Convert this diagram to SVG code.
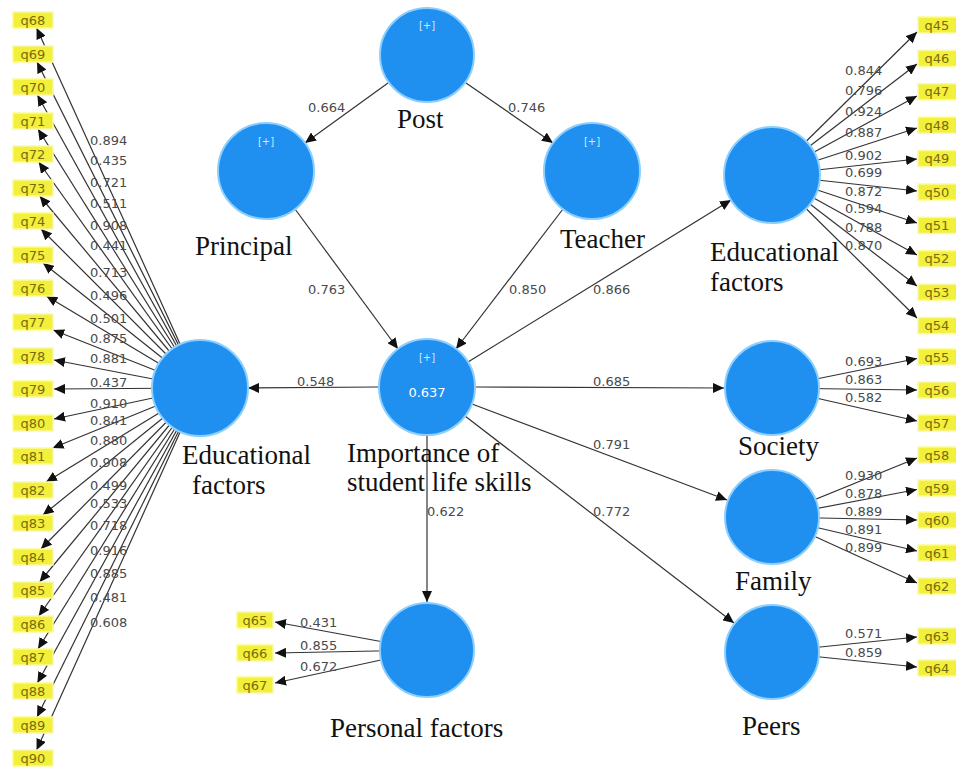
<svg xmlns="http://www.w3.org/2000/svg" width="956" height="776" viewBox="0 0 956 776">
  <style>
    .lv { fill: #1f8ff0; stroke: #8ccfff; stroke-width: 2; }
    .plus { font-family: "DejaVu Sans", sans-serif; font-size: 10px; fill: #cfe8ff; text-anchor: middle; }
    .r2 { font-family: "DejaVu Sans", sans-serif; font-size: 13px; fill: #ffffff; text-anchor: middle; }
    .name { font-family: "Liberation Serif", serif; font-size: 27px; fill: #111; }
    .ind rect { fill: #f2f03a; stroke: #fbfa9a; stroke-width: 1.5; }
    .ind text { font-family: "DejaVu Sans", sans-serif; font-size: 13px; fill: #7a6a10; text-anchor: middle; }
    .ln { stroke: #333333; stroke-width: 1.2; fill: none; marker-end: url(#ah); }
    .val { font-family: "DejaVu Sans", sans-serif; font-size: 13px; fill: #4a4a4a; }
  </style>
  <defs>
    <marker id="ah" markerUnits="userSpaceOnUse" markerWidth="12" markerHeight="10" refX="11" refY="5" orient="auto">
      <path d="M0,0 L11,5 L0,10 z" fill="#111"/>
    </marker>
  </defs>
  <rect width="956" height="776" fill="#ffffff"/>

  <g id="connectors">
    <!-- structural paths -->
    <line class="ln" x1="388" y1="83" x2="305" y2="143"/>
    <line class="ln" x1="466" y1="83" x2="553" y2="143"/>
    <line class="ln" x1="295" y1="209" x2="398" y2="349"/>
    <line class="ln" x1="563" y1="209" x2="456" y2="349"/>
    <line class="ln" x1="468" y1="362" x2="731" y2="200"/>
    <line class="ln" x1="379" y1="387" x2="248" y2="388"/>
    <line class="ln" x1="475" y1="387" x2="724" y2="388"/>
    <line class="ln" x1="472" y1="404" x2="727" y2="500"/>
    <line class="ln" x1="465" y1="416" x2="734" y2="623"/>
    <line class="ln" x1="427" y1="435" x2="427" y2="602"/>

    <!-- outer loadings: left Educational factors -->
    <g id="loadings-left">
      <line class="ln" x1="200" y1="388" x2="36.6" y2="28"/>
      <line class="ln" x1="200" y1="388" x2="37" y2="62"/>
      <line class="ln" x1="200" y1="388" x2="37.4" y2="95"/>
      <line class="ln" x1="200" y1="388" x2="38" y2="129"/>
      <line class="ln" x1="200" y1="388" x2="38.7" y2="162"/>
      <line class="ln" x1="200" y1="388" x2="39.7" y2="196"/>
      <line class="ln" x1="200" y1="388" x2="41" y2="229"/>
      <line class="ln" x1="200" y1="388" x2="43" y2="263"/>
      <line class="ln" x1="200" y1="388" x2="46.4" y2="296"/>
      <line class="ln" x1="200" y1="388" x2="53.2" y2="330"/>
      <line class="ln" x1="200" y1="388" x2="54" y2="360"/>
      <line class="ln" x1="200" y1="388" x2="54" y2="389"/>
      <line class="ln" x1="200" y1="388" x2="54" y2="419"/>
      <line class="ln" x1="200" y1="388" x2="52.6" y2="448"/>
      <line class="ln" x1="200" y1="388" x2="46.1" y2="482"/>
      <line class="ln" x1="200" y1="388" x2="42.9" y2="515"/>
      <line class="ln" x1="200" y1="388" x2="40.9" y2="549"/>
      <line class="ln" x1="200" y1="388" x2="39.6" y2="582"/>
      <line class="ln" x1="200" y1="388" x2="38.7" y2="616"/>
      <line class="ln" x1="200" y1="388" x2="38" y2="649"/>
      <line class="ln" x1="200" y1="388" x2="37.4" y2="683"/>
      <line class="ln" x1="200" y1="388" x2="37" y2="717"/>
      <line class="ln" x1="200" y1="388" x2="36.6" y2="750"/>
    </g>

    <!-- outer loadings: right Educational factors -->
    <g id="loadings-right">
      <line class="ln" x1="772" y1="175" x2="917" y2="32"/>
      <line class="ln" x1="772" y1="175" x2="917" y2="64"/>
      <line class="ln" x1="772" y1="175" x2="917" y2="96"/>
      <line class="ln" x1="772" y1="175" x2="917" y2="128"/>
      <line class="ln" x1="772" y1="175" x2="917" y2="159"/>
      <line class="ln" x1="772" y1="175" x2="917" y2="191"/>
      <line class="ln" x1="772" y1="175" x2="917" y2="223"/>
      <line class="ln" x1="772" y1="175" x2="917" y2="255"/>
      <line class="ln" x1="772" y1="175" x2="917" y2="286"/>
      <line class="ln" x1="772" y1="175" x2="917" y2="318"/>
      <!-- Society -->
      <line class="ln" x1="772" y1="388" x2="917" y2="358.5"/>
      <line class="ln" x1="772" y1="388" x2="917" y2="390"/>
      <line class="ln" x1="772" y1="388" x2="917" y2="421"/>
      <!-- Family -->
      <line class="ln" x1="772" y1="517" x2="917" y2="458"/>
      <line class="ln" x1="772" y1="517" x2="917" y2="489.5"/>
      <line class="ln" x1="772" y1="517" x2="917" y2="520"/>
      <line class="ln" x1="772" y1="517" x2="917" y2="551"/>
      <line class="ln" x1="772" y1="517" x2="917" y2="583"/>
      <!-- Peers -->
      <line class="ln" x1="772" y1="652" x2="917" y2="637"/>
      <line class="ln" x1="772" y1="652" x2="917" y2="667"/>
    </g>

    <!-- Personal factors -->
    <g id="loadings-personal">
      <line class="ln" x1="427" y1="650" x2="275" y2="622"/>
      <line class="ln" x1="427" y1="650" x2="275" y2="653"/>
      <line class="ln" x1="427" y1="650" x2="275" y2="683"/>
    </g>

    <!-- coefficient labels -->
    <g id="path-values">
      <text class="val" x="308" y="112">0.664</text>
      <text class="val" x="508" y="112">0.746</text>
      <text class="val" x="308" y="294">0.763</text>
      <text class="val" x="509" y="294">0.850</text>
      <text class="val" x="593" y="294">0.866</text>
      <text class="val" x="297" y="386">0.548</text>
      <text class="val" x="593" y="386">0.685</text>
      <text class="val" x="593" y="449">0.791</text>
      <text class="val" x="593" y="516">0.772</text>
      <text class="val" x="427" y="516">0.622</text>
    </g>
    <g id="loading-values-left">
      <text class="val" x="90" y="145">0.894</text>
      <text class="val" x="90" y="165">0.435</text>
      <text class="val" x="90" y="187">0.721</text>
      <text class="val" x="90" y="208">0.511</text>
      <text class="val" x="90" y="230">0.908</text>
      <text class="val" x="90" y="250">0.441</text>
      <text class="val" x="90" y="277">0.713</text>
      <text class="val" x="90" y="300">0.496</text>
      <text class="val" x="90" y="323">0.501</text>
      <text class="val" x="90" y="343">0.875</text>
      <text class="val" x="90" y="363">0.881</text>
      <text class="val" x="90" y="387">0.437</text>
      <text class="val" x="90" y="408">0.910</text>
      <text class="val" x="90" y="425">0.841</text>
      <text class="val" x="90" y="445">0.880</text>
      <text class="val" x="90" y="467">0.908</text>
      <text class="val" x="90" y="490">0.499</text>
      <text class="val" x="90" y="508">0.533</text>
      <text class="val" x="90" y="530">0.718</text>
      <text class="val" x="90" y="555">0.916</text>
      <text class="val" x="90" y="578">0.885</text>
      <text class="val" x="90" y="602">0.481</text>
      <text class="val" x="90" y="627">0.608</text>
    </g>
    <g id="loading-values-right">
      <text class="val" x="845" y="75">0.844</text>
      <text class="val" x="845" y="95">0.796</text>
      <text class="val" x="845" y="116">0.924</text>
      <text class="val" x="845" y="137">0.887</text>
      <text class="val" x="845" y="160">0.902</text>
      <text class="val" x="845" y="177">0.699</text>
      <text class="val" x="845" y="196">0.872</text>
      <text class="val" x="845" y="213">0.594</text>
      <text class="val" x="845" y="232">0.788</text>
      <text class="val" x="845" y="250">0.870</text>
      <text class="val" x="845" y="366">0.693</text>
      <text class="val" x="845" y="384">0.863</text>
      <text class="val" x="845" y="402">0.582</text>
      <text class="val" x="845" y="480">0.930</text>
      <text class="val" x="845" y="498">0.878</text>
      <text class="val" x="845" y="516">0.889</text>
      <text class="val" x="845" y="534">0.891</text>
      <text class="val" x="845" y="552">0.899</text>
      <text class="val" x="845" y="638">0.571</text>
      <text class="val" x="845" y="657">0.859</text>
      <text class="val" x="300" y="627">0.431</text>
      <text class="val" x="300" y="650">0.855</text>
      <text class="val" x="300" y="671">0.672</text>
    </g>
  </g>

  <!-- latent variables -->
  <g id="post">
    <circle class="lv" cx="427" cy="55" r="47"/>
    <text class="plus" x="427" y="29">[+]</text>
    <text class="name" x="397" y="128">Post</text>
  </g>
  <g id="principal">
    <circle class="lv" cx="266" cy="171" r="48"/>
    <text class="plus" x="266" y="145">[+]</text>
    <text class="name" x="195" y="255">Principal</text>
  </g>
  <g id="teacher">
    <circle class="lv" cx="592" cy="171" r="48"/>
    <text class="plus" x="592" y="145">[+]</text>
    <text class="name" x="560" y="248">Teacher</text>
  </g>
  <g id="importance">
    <circle class="lv" cx="427" cy="387" r="48"/>
    <text class="plus" x="427" y="361">[+]</text>
    <text class="r2" x="427" y="397">0.637</text>
    <text class="name" x="347" y="462">Importance of</text>
    <text class="name" x="347" y="491">student life skills</text>
  </g>
  <g id="educational-left">
    <circle class="lv" cx="200" cy="388" r="48"/>
    <text class="name" x="182" y="464">Educational</text>
    <text class="name" x="192" y="494">factors</text>
  </g>
  <g id="educational-right">
    <circle class="lv" cx="772" cy="175" r="48"/>
    <text class="name" x="710" y="261">Educational</text>
    <text class="name" x="710" y="291">factors</text>
  </g>
  <g id="society">
    <circle class="lv" cx="772" cy="388" r="47"/>
    <text class="name" x="738" y="455">Society</text>
  </g>
  <g id="family">
    <circle class="lv" cx="772" cy="517" r="47"/>
    <text class="name" x="735" y="590">Family</text>
  </g>
  <g id="peers">
    <circle class="lv" cx="772" cy="652" r="47"/>
    <text class="name" x="742" y="735">Peers</text>
  </g>
  <g id="personal">
    <circle class="lv" cx="427" cy="650" r="47"/>
    <text class="name" x="330" y="737">Personal factors</text>
  </g>

  <!-- indicators, left column -->
  <g class="ind" id="q68"><rect x="13" y="12" width="40" height="16"/><text x="33" y="24.5">q68</text></g>
  <g class="ind" id="q69"><rect x="13" y="46" width="40" height="16"/><text x="33" y="58.5">q69</text></g>
  <g class="ind" id="q70"><rect x="13" y="79" width="40" height="16"/><text x="33" y="91.5">q70</text></g>
  <g class="ind" id="q71"><rect x="13" y="113" width="40" height="16"/><text x="33" y="125.5">q71</text></g>
  <g class="ind" id="q72"><rect x="13" y="146" width="40" height="16"/><text x="33" y="158.5">q72</text></g>
  <g class="ind" id="q73"><rect x="13" y="180" width="40" height="16"/><text x="33" y="192.5">q73</text></g>
  <g class="ind" id="q74"><rect x="13" y="213" width="40" height="16"/><text x="33" y="225.5">q74</text></g>
  <g class="ind" id="q75"><rect x="13" y="247" width="40" height="16"/><text x="33" y="259.5">q75</text></g>
  <g class="ind" id="q76"><rect x="13" y="280" width="40" height="16"/><text x="33" y="292.5">q76</text></g>
  <g class="ind" id="q77"><rect x="13" y="314" width="40" height="16"/><text x="33" y="326.5">q77</text></g>
  <g class="ind" id="q78"><rect x="13" y="348" width="40" height="16"/><text x="33" y="360.5">q78</text></g>
  <g class="ind" id="q79"><rect x="13" y="381" width="40" height="16"/><text x="33" y="393.5">q79</text></g>
  <g class="ind" id="q80"><rect x="13" y="415" width="40" height="16"/><text x="33" y="427.5">q80</text></g>
  <g class="ind" id="q81"><rect x="13" y="448" width="40" height="16"/><text x="33" y="460.5">q81</text></g>
  <g class="ind" id="q82"><rect x="13" y="482" width="40" height="16"/><text x="33" y="494.5">q82</text></g>
  <g class="ind" id="q83"><rect x="13" y="515" width="40" height="16"/><text x="33" y="527.5">q83</text></g>
  <g class="ind" id="q84"><rect x="13" y="549" width="40" height="16"/><text x="33" y="561.5">q84</text></g>
  <g class="ind" id="q85"><rect x="13" y="582" width="40" height="16"/><text x="33" y="594.5">q85</text></g>
  <g class="ind" id="q86"><rect x="13" y="616" width="40" height="16"/><text x="33" y="628.5">q86</text></g>
  <g class="ind" id="q87"><rect x="13" y="649" width="40" height="16"/><text x="33" y="661.5">q87</text></g>
  <g class="ind" id="q88"><rect x="13" y="683" width="40" height="16"/><text x="33" y="695.5">q88</text></g>
  <g class="ind" id="q89"><rect x="13" y="717" width="40" height="16"/><text x="33" y="729.5">q89</text></g>
  <g class="ind" id="q90"><rect x="13" y="750" width="40" height="16"/><text x="33" y="762.5">q90</text></g>

  <!-- indicators, right column -->
  <g class="ind" id="q45"><rect x="918" y="17" width="40" height="16"/><text x="937" y="29.5">q45</text></g>
  <g class="ind" id="q46"><rect x="918" y="50.4" width="40" height="16"/><text x="937" y="62.9">q46</text></g>
  <g class="ind" id="q47"><rect x="918" y="83.8" width="40" height="16"/><text x="937" y="96.3">q47</text></g>
  <g class="ind" id="q48"><rect x="918" y="117.2" width="40" height="16"/><text x="937" y="129.7">q48</text></g>
  <g class="ind" id="q49"><rect x="918" y="150.6" width="40" height="16"/><text x="937" y="163.1">q49</text></g>
  <g class="ind" id="q50"><rect x="918" y="184" width="40" height="16"/><text x="937" y="196.5">q50</text></g>
  <g class="ind" id="q51"><rect x="918" y="217.4" width="40" height="16"/><text x="937" y="229.9">q51</text></g>
  <g class="ind" id="q52"><rect x="918" y="250.8" width="40" height="16"/><text x="937" y="263.3">q52</text></g>
  <g class="ind" id="q53"><rect x="918" y="284.2" width="40" height="16"/><text x="937" y="296.7">q53</text></g>
  <g class="ind" id="q54"><rect x="918" y="317.6" width="40" height="16"/><text x="937" y="330.1">q54</text></g>
  <g class="ind" id="q55"><rect x="918" y="349" width="40" height="16"/><text x="937" y="361.5">q55</text></g>
  <g class="ind" id="q56"><rect x="918" y="382" width="40" height="16"/><text x="937" y="394.5">q56</text></g>
  <g class="ind" id="q57"><rect x="918" y="415" width="40" height="16"/><text x="937" y="427.5">q57</text></g>
  <g class="ind" id="q58"><rect x="918" y="447" width="40" height="16"/><text x="937" y="459.5">q58</text></g>
  <g class="ind" id="q59"><rect x="918" y="480" width="40" height="16"/><text x="937" y="492.5">q59</text></g>
  <g class="ind" id="q60"><rect x="918" y="512" width="40" height="16"/><text x="937" y="524.5">q60</text></g>
  <g class="ind" id="q61"><rect x="918" y="545" width="40" height="16"/><text x="937" y="557.5">q61</text></g>
  <g class="ind" id="q62"><rect x="918" y="578" width="40" height="16"/><text x="937" y="590.5">q62</text></g>
  <g class="ind" id="q63"><rect x="918" y="628" width="40" height="16"/><text x="937" y="640.5">q63</text></g>
  <g class="ind" id="q64"><rect x="918" y="660" width="40" height="16"/><text x="937" y="672.5">q64</text></g>

  <!-- indicators, Personal factors -->
  <g class="ind" id="q65"><rect x="237" y="612" width="36" height="16"/><text x="255" y="624.5">q65</text></g>
  <g class="ind" id="q66"><rect x="237" y="645" width="36" height="16"/><text x="255" y="657.5">q66</text></g>
  <g class="ind" id="q67"><rect x="237" y="677" width="36" height="16"/><text x="255" y="689.5">q67</text></g>
</svg>
